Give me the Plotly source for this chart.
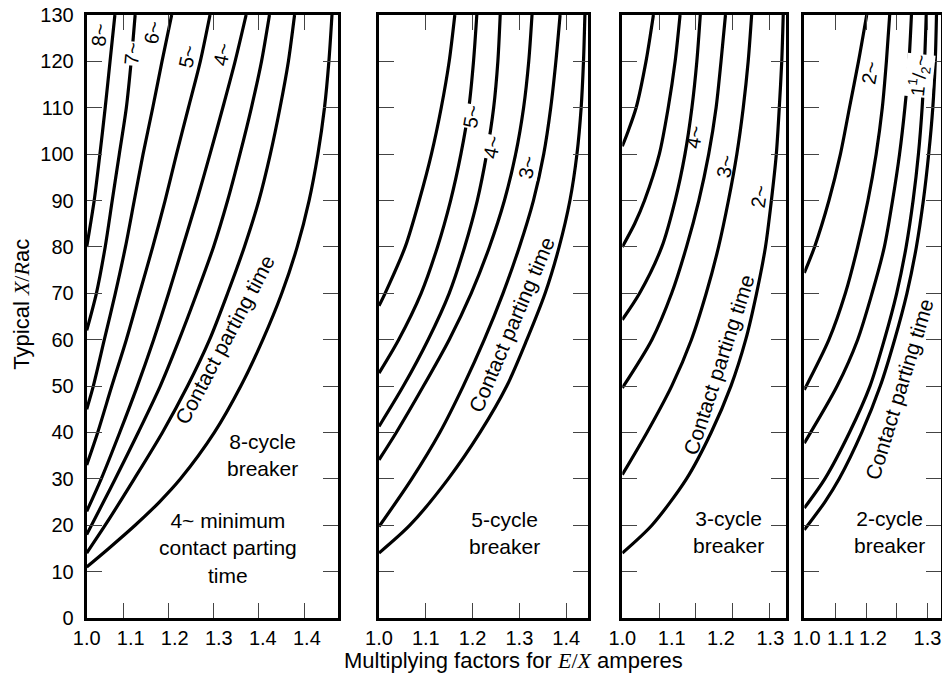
import plotly.graph_objects as go

W, H = 942, 681

# ---------------- data (x = multiplying factor, y = X/R) ----------------
# Panel 1 : 8-cycle breaker
P1_C1_Y = [80, 90, 100, 110, 120, 130]
P1_C1_X = [1.0, 1.017, 1.030, 1.042, 1.053, 1.064]
P1_C2_Y = [62, 70, 80, 90, 100, 110, 120, 130]
P1_C2_X = [1.0, 1.022, 1.042, 1.058, 1.074, 1.090, 1.101, 1.110]
P1_C3_Y = [45, 50, 60, 70, 80, 90, 100, 110, 120, 130]
P1_C3_X = [1.0, 1.015, 1.04, 1.065, 1.088, 1.108, 1.128, 1.150, 1.171, 1.193]
P1_C4_Y = [33, 40, 50, 60, 70, 80, 90, 100, 110, 120, 130]
P1_C4_X = [1.0, 1.025, 1.057, 1.09, 1.12, 1.15, 1.178, 1.204, 1.231, 1.258, 1.280]
P1_C5_Y = [23, 30, 40, 50, 60, 70, 80, 90, 100, 110, 120, 130]
P1_C5_X = [1.0, 1.033, 1.075, 1.115, 1.152, 1.186, 1.218, 1.25, 1.28, 1.309, 1.337, 1.362]
P1_C6_Y = [18, 25, 30, 40, 50, 60, 70, 80, 90, 100, 110, 120, 130]
P1_C6_X = [1.0, 1.038, 1.065, 1.117, 1.167, 1.21, 1.25, 1.288, 1.32, 1.348, 1.374, 1.397, 1.415]
P1_C7_Y = [14, 20, 30, 40, 50, 60, 70, 80, 90, 100, 110, 120, 130]
P1_C7_X = [1.0, 1.042, 1.108, 1.172, 1.229, 1.279, 1.32, 1.358, 1.391, 1.417, 1.439, 1.458, 1.472]
P1_C8_Y = [11, 15, 20, 25, 30, 40, 50, 60, 70, 80, 90, 100, 110, 120, 130]
P1_C8_X = [1.0, 1.05, 1.11, 1.165, 1.213, 1.29, 1.35, 1.40, 1.443, 1.478, 1.505, 1.525, 1.540, 1.550, 1.557]

# Panel 2 : 5-cycle breaker
P2_C1_Y = [67.3, 70, 80, 90, 100, 110, 120, 130]
P2_C1_X = [1.0, 1.013, 1.056, 1.086, 1.112, 1.133, 1.150, 1.162]
P2_C2_Y = [52.8, 60, 70, 80, 90, 100, 110, 120, 130]
P2_C2_X = [1.0, 1.042, 1.09, 1.125, 1.153, 1.175, 1.192, 1.202, 1.209]
P2_C3_Y = [41.3, 50, 60, 70, 80, 90, 100, 110, 120, 130]
P2_C3_X = [1.0, 1.052, 1.105, 1.15, 1.183, 1.210, 1.230, 1.245, 1.254, 1.259]
P2_C4_Y = [34.1, 40, 50, 60, 70, 80, 90, 100, 110, 120, 130]
P2_C4_X = [1.0, 1.037, 1.095, 1.15, 1.197, 1.236, 1.268, 1.292, 1.309, 1.320, 1.327]
P2_C5_Y = [19.7, 30, 40, 50, 60, 70, 80, 90, 100, 110, 120, 130]
P2_C5_X = [1.0, 1.07, 1.13, 1.18, 1.225, 1.265, 1.30, 1.33, 1.352, 1.367, 1.378, 1.387]
P2_C6_Y = [14, 20, 30, 40, 50, 60, 70, 80, 90, 100, 110, 120, 130]
P2_C6_X = [1.0, 1.066, 1.148, 1.216, 1.273, 1.316, 1.355, 1.385, 1.408, 1.423, 1.432, 1.437, 1.440]

# Panel 3 : 3-cycle breaker
P3_C1_Y = [101.7, 105, 110, 120, 130]
P3_C1_X = [1.0, 1.012, 1.028, 1.048, 1.063]
P3_C2_Y = [80, 85, 90, 100, 110, 120, 130]
P3_C2_X = [1.0, 1.025, 1.045, 1.075, 1.093, 1.107, 1.117]
P3_C3_Y = [64.3, 70, 80, 90, 100, 110, 120, 130]
P3_C3_X = [1.0, 1.035, 1.08, 1.107, 1.127, 1.141, 1.151, 1.158]
P3_C4_Y = [49.6, 60, 70, 80, 90, 100, 110, 120, 130]
P3_C4_X = [1.0, 1.06, 1.10, 1.13, 1.155, 1.175, 1.19, 1.20, 1.209]
P3_C5_Y = [30.9, 40, 50, 60, 70, 80, 90, 100, 110, 120, 130]
P3_C5_X = [1.0, 1.05, 1.10, 1.14, 1.17, 1.195, 1.215, 1.232, 1.245, 1.255, 1.262]
P3_C6_Y = [14, 20, 30, 40, 50, 60, 70, 80, 90, 100, 110, 120, 130]
P3_C6_X = [1.0, 1.06, 1.13, 1.18, 1.22, 1.25, 1.272, 1.29, 1.302, 1.312, 1.318, 1.323, 1.326]

# Panel 4 : 2-cycle breaker
P4_C1_Y = [74.4, 80, 90, 100, 110, 120, 130]
P4_C1_X = [1.0, 1.025, 1.06, 1.088, 1.11, 1.132, 1.152]
P4_C2_Y = [49.2, 60, 70, 80, 90, 100, 110, 120, 130]
P4_C2_X = [1.0, 1.06, 1.10, 1.13, 1.155, 1.175, 1.19, 1.20, 1.208]
P4_C3_Y = [37.7, 50, 60, 70, 80, 90, 100, 110, 120, 130]
P4_C3_X = [1.0, 1.08, 1.13, 1.165, 1.195, 1.215, 1.232, 1.245, 1.255, 1.261]
P4_C4_Y = [23.7, 30, 40, 50, 60, 70, 80, 90, 100, 110, 120, 130]
P4_C4_X = [1.0, 1.05, 1.11, 1.16, 1.195, 1.225, 1.248, 1.265, 1.278, 1.287, 1.293, 1.297]
P4_C5_Y = [19, 25, 30, 40, 50, 60, 70, 80, 90, 100, 110, 120, 130]
P4_C5_X = [1.0, 1.05, 1.085, 1.14, 1.185, 1.22, 1.25, 1.273, 1.29, 1.303, 1.313, 1.319, 1.322]

# axis ticks
Y_TICKS = list(range(0, 131, 10))
P1_XLABEL_VALS = [1.0, 1.1, 1.2, 1.3, 1.4, 1.5]
P1_XLABEL_TEXT = ["1.0", "1.1", "1.2", "1.3", "1.4", "1.4"]
P1_XMARKS = [1.083, 1.185, 1.287, 1.391, 1.494]
P2_XLABEL_VALS = [1.0, 1.1, 1.2, 1.3, 1.4]
P2_XLABEL_TEXT = ["1.0", "1.1", "1.2", "1.3", "1.4"]
P2_XMARKS = [1.1, 1.2, 1.3, 1.4]
P3_XLABEL_VALS = [1.0, 1.1, 1.2, 1.3]
P3_XLABEL_TEXT = ["1.0", "1.1", "1.2", "1.3"]
P3_XMARKS = [1.075, 1.149, 1.224, 1.298]
P4_XLABEL_VALS = [1.006, 1.089, 1.167, 1.30]
P4_XLABEL_TEXT = ["1.0", "1.1", "1.2", "1.3"]
P4_XMARKS = [1.077, 1.152, 1.225, 1.30]

X_RANGES = [[1.0, 1.57], [1.0, 1.446], [1.0, 1.331], [1.0, 1.333]]
DOMAINS_PX = [[86.7, 337.7], [379.0, 587.7], [622.3, 785.7], [804.3, 941.0]]

PANELS = [
    [(P1_C1_X, P1_C1_Y), (P1_C2_X, P1_C2_Y), (P1_C3_X, P1_C3_Y), (P1_C4_X, P1_C4_Y),
     (P1_C5_X, P1_C5_Y), (P1_C6_X, P1_C6_Y), (P1_C7_X, P1_C7_Y), (P1_C8_X, P1_C8_Y)],
    [(P2_C1_X, P2_C1_Y), (P2_C2_X, P2_C2_Y), (P2_C3_X, P2_C3_Y), (P2_C4_X, P2_C4_Y),
     (P2_C5_X, P2_C5_Y), (P2_C6_X, P2_C6_Y)],
    [(P3_C1_X, P3_C1_Y), (P3_C2_X, P3_C2_Y), (P3_C3_X, P3_C3_Y), (P3_C4_X, P3_C4_Y),
     (P3_C5_X, P3_C5_Y), (P3_C6_X, P3_C6_Y)],
    [(P4_C1_X, P4_C1_Y), (P4_C2_X, P4_C2_Y), (P4_C3_X, P4_C3_Y), (P4_C4_X, P4_C4_Y),
     (P4_C5_X, P4_C5_Y)],
]
XLABELS = [(P1_XLABEL_VALS, P1_XLABEL_TEXT, P1_XMARKS), (P2_XLABEL_VALS, P2_XLABEL_TEXT, P2_XMARKS),
           (P3_XLABEL_VALS, P3_XLABEL_TEXT, P3_XMARKS), (P4_XLABEL_VALS, P4_XLABEL_TEXT, P4_XMARKS)]

# curve labels: (panel, x, y, text, angle, font size, sits_on_curve)
CURVE_LABELS = [
    (0, 1.030, 125.8, "8~", -85, 20, False), (0, 1.103, 121.6, "7~", -85, 20, True),
    (0, 1.149, 126.2, "6~", -80, 20, False), (0, 1.228, 121.0, "5~", -78, 20, False),
    (0, 1.308, 121.5, "4~", -78, 20, False),
    (1, 1.197, 108.1, "5~", -80, 20, True), (1, 1.241, 101.6, "4~", -78, 20, True),
    (1, 1.316, 97.3, "3~", -80, 20, True),
    (2, 1.145, 103.8, "4~", -80, 20, False), (2, 1.208, 97.5, "3~", -80, 20, False),
    (2, 1.277, 90.8, "2~", -82, 20, False),
    (3, 1.159, 117.6, "2~", -80, 20, False),
    (3, 1.280, 117.0, "1<sup>1</sup>/<sub>2</sub>~", -84, 19, True),
]
CPT_LABELS = [(0, 1.314, 60.0, -62), (1, 1.284, 63.2, -67), (2, 1.196, 54.6, -72), (3, 1.232, 49.2, -73)]
BREAKER_LABELS = [
    (0, 1.399, 35.2, "8-cycle<br>breaker"),
    (0, 1.321, 15.2, "4~ minimum<br>contact parting<br>time"),
    (1, 1.269, 18.4, "5-cycle<br>breaker"),
    (2, 1.216, 18.6, "3-cycle<br>breaker"),
    (3, 1.208, 18.6, "2-cycle<br>breaker"),
]

FONT = "Liberation Sans, Arial, sans-serif"
SERIF = "Liberation Serif, Times New Roman, serif"

fig = go.Figure()
for i, curves in enumerate(PANELS):
    xa = "x" if i == 0 else f"x{i+1}"
    ya = "y" if i == 0 else f"y{i+1}"
    for cx, cy in curves:
        fig.add_trace(go.Scatter(x=cx, y=cy, mode="lines", xaxis=xa, yaxis=ya,
                                 line=dict(color="black", width=3.2, shape="spline", smoothing=0.8),
                                 showlegend=False, hoverinfo="skip"))

layout = dict(width=W, height=H, margin=dict(l=0, r=0, t=15.3, b=H - 618.3, autoexpand=False),
              paper_bgcolor="white", plot_bgcolor="white", showlegend=False,
              font=dict(family=FONT, size=20, color="black"))
for i in range(4):
    d0, d1 = DOMAINS_PX[i]
    vals, texts, marks = XLABELS[i]
    xkey = "xaxis" if i == 0 else f"xaxis{i+1}"
    ykey = "yaxis" if i == 0 else f"yaxis{i+1}"
    layout[xkey] = dict(domain=[d0 / W, d1 / W], range=X_RANGES[i], showgrid=False, zeroline=False,
                        showline=True, linecolor="black", linewidth=3, mirror="allticks",
                        tickmode="array", tickvals=vals, ticktext=texts, ticks="",
                        tickfont=dict(size=20, family=FONT), ticklabelstandoff=0,
                        minor=dict(tickmode="array", tickvals=marks, ticks="inside", ticklen=15,
                                   tickwidth=1.2, tickcolor="#444", showgrid=False),
                        anchor="y" if i == 0 else f"y{i+1}", fixedrange=True, automargin=False)
    layout[ykey] = dict(domain=[0, 1], range=[0, 130], showgrid=False, zeroline=False,
                        showline=True, linecolor="black", linewidth=3, mirror="allticks",
                        tickmode="array", tickvals=Y_TICKS, ticks="inside", ticklen=15,
                        tickwidth=1.2, tickcolor="#444", showticklabels=(i == 0),
                        tickfont=dict(size=20, family=FONT), ticklabelstandoff=6,
                        anchor="x" if i == 0 else f"x{i+1}", fixedrange=True, automargin=False)
fig.update_layout(**layout)

anns = []
def axref(p):
    return ("x" if p == 0 else f"x{p+1}", "y" if p == 0 else f"y{p+1}")

for p, x, y, t, ang, fs, on_curve in CURVE_LABELS:
    xr, yr = axref(p)
    anns.append(dict(x=x, y=y, xref=xr, yref=yr, text=t, showarrow=False, textangle=ang,
                     xanchor="center", yanchor="middle", font=dict(size=fs),
                     bgcolor="white" if on_curve else "rgba(0,0,0,0)", borderpad=0))
for p, x, y, ang in CPT_LABELS:
    xr, yr = axref(p)
    anns.append(dict(x=x, y=y, xref=xr, yref=yr, text="Contact parting time", showarrow=False,
                     xanchor="center", yanchor="middle", textangle=ang, font=dict(size=21)))
for p, x, y, t in BREAKER_LABELS:
    xr, yr = axref(p)
    anns.append(dict(x=x, y=y, xref=xr, yref=yr, text=t, showarrow=False, align="center",
                     xanchor="center", yanchor="middle", font=dict(size=21)))

PLOT_H = 618.3 - 15.3
anns.append(dict(x=22 / W, y=(618.3 - 305) / PLOT_H, xref="paper", yref="paper",
                 xanchor="center", yanchor="middle",
                 text=f"Typical <span style='font-family:{SERIF}'><i>X</i>/<i>R</i></span>ac",
                 showarrow=False, textangle=-90, font=dict(size=22)))
anns.append(dict(x=513 / W, y=(618.3 - 661) / PLOT_H, xref="paper", yref="paper",
                 xanchor="center", yanchor="middle",
                 text=f"Multiplying factors for <span style='font-family:{SERIF}'><i>E</i>/<i>X</i></span> amperes",
                 showarrow=False, font=dict(size=22)))
fig.update_layout(annotations=anns)

fig.write_html("out.html", config={"displayModeBar": False},
               post_script="document.body.style.margin='0';document.body.style.overflow='hidden';")
